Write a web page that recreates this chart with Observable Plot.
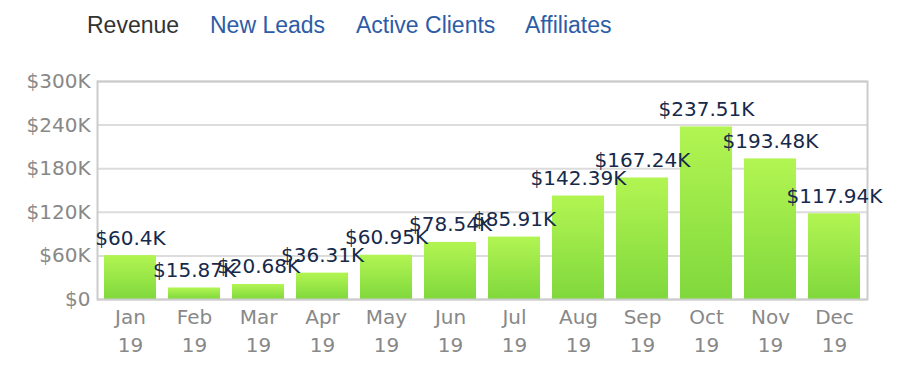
<!DOCTYPE html>
<html>
<head>
<meta charset="utf-8">
<script src="https://cdn.jsdelivr.net/npm/d3@7"></script>
<script src="https://cdn.jsdelivr.net/npm/@observablehq/plot@0.6"></script>
<style>
  html, body { margin: 0; padding: 0; background: #fff; }
  #tabs { position: relative; height: 50px; width: 912px; font-family: "Liberation Sans", Arial, Helvetica, sans-serif; font-size: 23px; }
  #tabs span { position: absolute; top: 9px; line-height: 32px; white-space: nowrap; }
  #chart svg { display: block; }
</style>
</head>
<body>
<div id="tabs"></div>
<div id="chart"></div>
<script>
const tabs = ["Revenue", "New Leads", "Active Clients", "Affiliates"];
const tabX = [87, 210, 356, 525];
const months = ["Jan", "Feb", "Mar", "Apr", "May", "Jun", "Jul", "Aug", "Sep", "Oct", "Nov", "Dec"];
const year = "19";
const revenueK = [60.4, 15.87, 20.68, 36.31, 60.95, 78.54, 85.91, 142.39, 167.24, 237.51, 193.48, 117.94];
const yTicks = [0, 60, 120, 180, 240, 300];

const tabsDiv = document.getElementById("tabs");
tabs.forEach((t, i) => {
  const s = document.createElement("span");
  s.textContent = t;
  s.style.left = tabX[i] + "px";
  s.style.color = i === 0 ? "#333333" : "#2d5ca6";
  tabsDiv.appendChild(s);
});

const data = months.map((m, i) => ({month: m, value: revenueK[i], label: "$" + revenueK[i] + "K"}));

const svg = Plot.plot({
  width: 912,
  height: 324,
  marginTop: 31,
  marginBottom: 75,
  marginLeft: 97,
  marginRight: 45,
  style: {fontFamily: "DejaVu Sans, Verdana, sans-serif", fontSize: "20px", background: "#fff", overflow: "visible"},
  x: {domain: months, paddingInner: 0.18, paddingOuter: 0.09},
  y: {domain: [0, 300]},
  marks: [
    Plot.gridY(yTicks, {stroke: "#dcdcdc", strokeOpacity: 1, strokeWidth: 2}),
    Plot.barY(data, {x: "month", y: "value", fill: "url(#barGrad)"}),
    Plot.frame({stroke: "#cccccc", strokeWidth: 2}),
    Plot.text(data, {x: "month", y: "value", text: "label", lineAnchor: "bottom", dy: -11, fill: "#16294a", fontSize: 20}),
    Plot.axisX({tickSize: 0, tickPadding: 5, fontSize: 20, lineHeight: 1.4, color: "#888888",
      tickFormat: d => d + "\n" + year, label: null}),
    Plot.axisY(yTicks, {tickSize: 0, tickPadding: 7, fontSize: 20, color: "#888888",
      tickFormat: d => d === 0 ? "$0" : "$" + d + "K", label: null})
  ]
});

const defs = d3.select(svg).insert("defs", ":first-child");
const grad = defs.append("linearGradient").attr("id", "barGrad").attr("x1", 0).attr("y1", 0).attr("x2", 0).attr("y2", 1);
grad.append("stop").attr("offset", "0%").attr("stop-color", "#b2f552");
grad.append("stop").attr("offset", "100%").attr("stop-color", "#80d83c");

document.getElementById("chart").appendChild(svg);
</script>
</body>
</html>
